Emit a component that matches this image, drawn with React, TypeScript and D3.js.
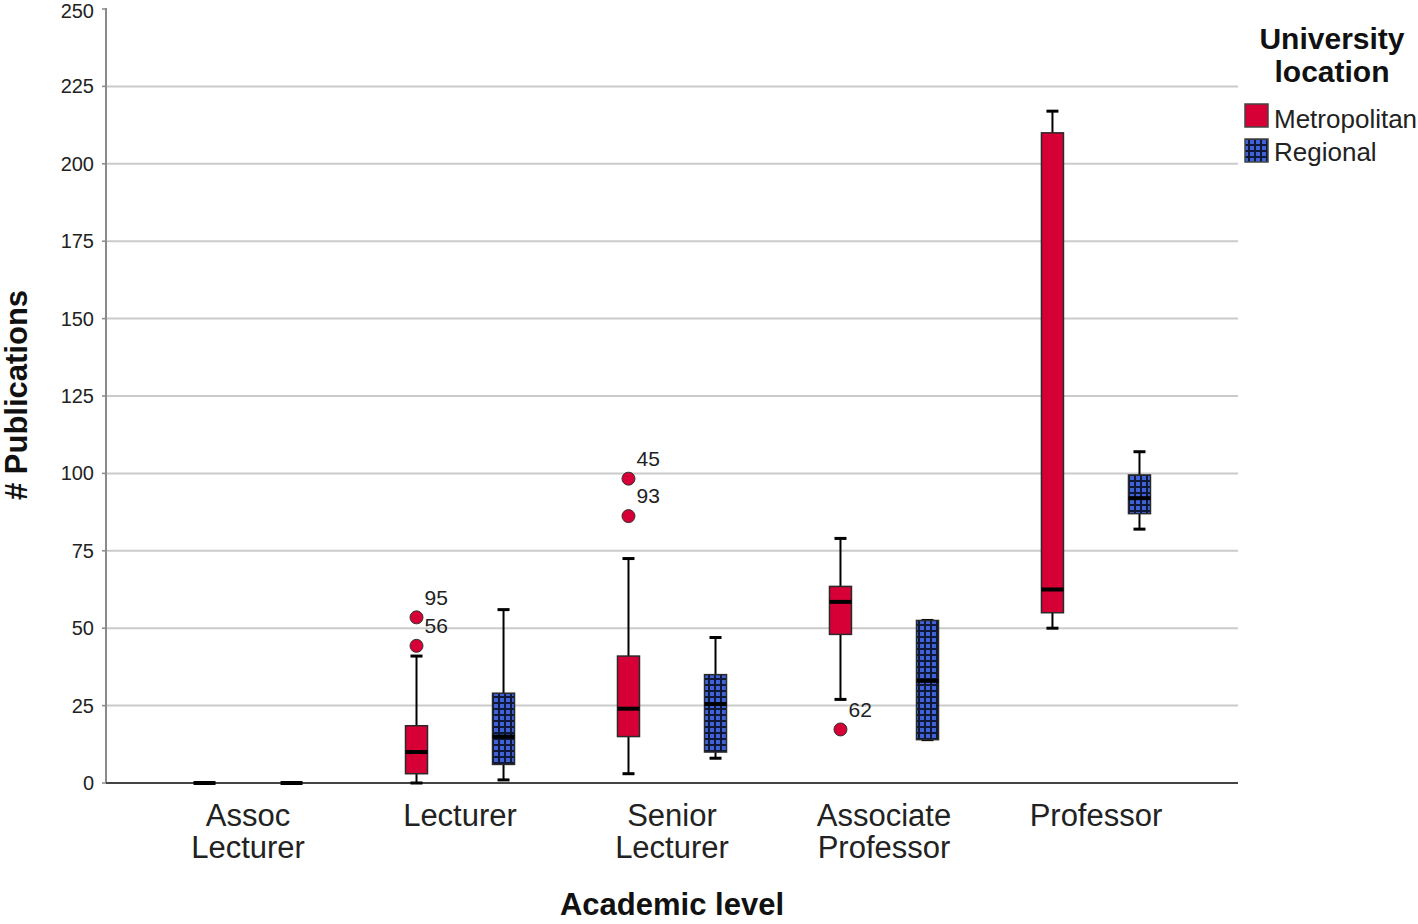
import React from "react";
import * as d3 from "d3";

const categories = ["Assoc Lecturer", "Lecturer", "Senior Lecturer", "Associate Professor", "Professor"];
const categoryLines = [["Assoc", "Lecturer"], ["Lecturer"], ["Senior", "Lecturer"], ["Associate", "Professor"], ["Professor"]];
const groups = ["Metropolitan", "Regional"];

// five-number summaries
const metroLow = [0, 0, 3, 27, 50];
const metroQ1 = [0, 3, 15, 48, 55];
const metroMedian = [0, 10, 24, 58.5, 62.5];
const metroQ3 = [0, 18.5, 41, 63.5, 210];
const metroHigh = [0, 41, 72.5, 79, 217];

const regionalLow = [0, 1, 8, 14, 82];
const regionalQ1 = [0, 6, 10, 14, 87];
const regionalMedian = [0, 15, 25.5, 33, 92];
const regionalQ3 = [0, 29, 35, 52.5, 99.5];
const regionalHigh = [0, 56, 47, 52.5, 107];

const outlierCategory = ["Lecturer", "Lecturer", "Senior Lecturer", "Senior Lecturer", "Associate Professor"];
const outlierValue = [53.5, 44.3, 98.3, 86.2, 17.3];
const outlierLabel = ["95", "56", "45", "93", "62"];

const yTicks = [0, 25, 50, 75, 100, 125, 150, 175, 200, 225, 250];

const W = 1418;
const H = 924;
const left = 106;
const right = 1238;
const top = 9;
const bottom = 783;
const font = "'Liberation Sans', Arial, sans-serif";
const red = "#d60036";

export default function App() {
  const x = d3.scaleBand().domain(categories).range([left, right]).paddingInner(0).paddingOuter(0.17);
  const xg = d3.scaleBand().domain(groups).range([0, x.bandwidth()]).paddingInner(0).paddingOuter(0.218);
  const y = d3.scaleLinear().domain([0, 250]).range([bottom, top]);
  const boxW = 22;
  const capW = 12;

  const series = [
    { g: "Metropolitan", lo: metroLow, q1: metroQ1, med: metroMedian, q3: metroQ3, hi: metroHigh, fill: red },
    { g: "Regional", lo: regionalLow, q1: regionalQ1, med: regionalMedian, q3: regionalQ3, hi: regionalHigh, fill: "url(#plaid)" },
  ];

  const cx = (c: string, g: string) => (x(c) as number) + (xg(g) as number) + xg.bandwidth() / 2;

  return (
    <svg width={W} height={H} style={{ position: "absolute", left: 0, top: 0, background: "#fff" }} fontFamily={font}>
      <defs>
        <pattern id="plaid" width={6} height={6} patternUnits="userSpaceOnUse">
          <rect width={6} height={6} fill="#3f62d4" />
          <line x1={0} y1={1} x2={6} y2={1} stroke="#0f1838" strokeWidth={2} />
          <line x1={1} y1={0} x2={1} y2={6} stroke="#0f1838" strokeWidth={2} />
        </pattern>
      </defs>

      {/* gridlines */}
      {yTicks.filter((t) => t > 0 && t < 250).map((t) => (
        <line key={t} x1={left} x2={right} y1={y(t)} y2={y(t)} stroke="#cbcbcb" strokeWidth={2} />
      ))}

      {/* y ticks */}
      {yTicks.map((t) => (
        <g key={"t" + t}>
          <line x1={left - 4} x2={left} y1={y(t)} y2={y(t)} stroke="#888" strokeWidth={1.5} />
          <text x={94} y={Math.max(y(t), 11)} dy="0.35em" textAnchor="end" fontSize={20} fill="#222">{t}</text>
        </g>
      ))}
      <line x1={left} x2={left} y1={top - 1} y2={bottom} stroke="#8a8a8a" strokeWidth={2} />
      <line x1={left} x2={right} y1={bottom} y2={bottom} stroke="#444" strokeWidth={2} />

      {/* boxes */}
      {series.map((s) =>
        categories.map((c, i) => {
          const X = cx(c, s.g);
          return (
            <g key={s.g + c}>
              <line x1={X} x2={X} y1={y(s.q3[i])} y2={y(s.hi[i])} stroke="#000" strokeWidth={2} />
              <line x1={X} x2={X} y1={y(s.q1[i])} y2={y(s.lo[i])} stroke="#000" strokeWidth={2} />
              <line x1={X - capW / 2} x2={X + capW / 2} y1={y(s.hi[i])} y2={y(s.hi[i])} stroke="#000" strokeWidth={3} />
              <line x1={X - capW / 2} x2={X + capW / 2} y1={y(s.lo[i])} y2={y(s.lo[i])} stroke="#000" strokeWidth={3} />
              <rect
                x={X - boxW / 2}
                y={y(s.q3[i])}
                width={boxW}
                height={y(s.q1[i]) - y(s.q3[i])}
                fill={s.fill}
                stroke="#2a2a2a"
                strokeWidth={1.5}
              />
              <line x1={X - boxW / 2} x2={X + boxW / 2} y1={y(s.med[i])} y2={y(s.med[i])} stroke="#000" strokeWidth={4} />
            </g>
          );
        })
      )}

      {/* outliers */}
      {outlierValue.map((v, i) => {
        const X = cx(outlierCategory[i], "Metropolitan");
        return (
          <g key={"o" + i}>
            <circle cx={X} cy={y(v)} r={6.5} fill={red} stroke="#333" strokeWidth={1} />
            <text x={X + 8} y={y(v) - 20} dy="0.35em" fontSize={21} fill="#222">{outlierLabel[i]}</text>
          </g>
        );
      })}

      {/* x category labels */}
      {categories.map((c, i) => (
        <text key={"c" + c} x={(x(c) as number) + x.bandwidth() / 2} y={815} textAnchor="middle" fontSize={31} fill="#222">
          {categoryLines[i].map((l, j) => (
            <tspan key={j} x={(x(c) as number) + x.bandwidth() / 2} y={815 + j * 32} dy="0.35em">{l}</tspan>
          ))}
        </text>
      ))}

      {/* axis titles */}
      <text x={672} y={904} dy="0.35em" textAnchor="middle" fontSize={31} fontWeight="bold" fill="#111">Academic level</text>
      <text transform={`translate(16,${395}) rotate(-90)`} dy="0.35em" textAnchor="middle" fontSize={31} fontWeight="bold" fill="#111"># Publications</text>

      {/* legend */}
      <text x={1332} y={38} dy="0.35em" textAnchor="middle" fontSize={30} fontWeight="bold" fill="#111">University</text>
      <text x={1332} y={71} dy="0.35em" textAnchor="middle" fontSize={30} fontWeight="bold" fill="#111">location</text>
      {groups.map((g, i) => (
        <g key={"l" + g}>
          <rect x={1245} y={104 + i * 35} width={23} height={23} fill={series[i].fill} stroke="#444" strokeWidth={1.5} />
          <text x={1274} y={119 + i * 33} dy="0.35em" fontSize={26} fill="#222">{g}</text>
        </g>
      ))}
    </svg>
  );
}
